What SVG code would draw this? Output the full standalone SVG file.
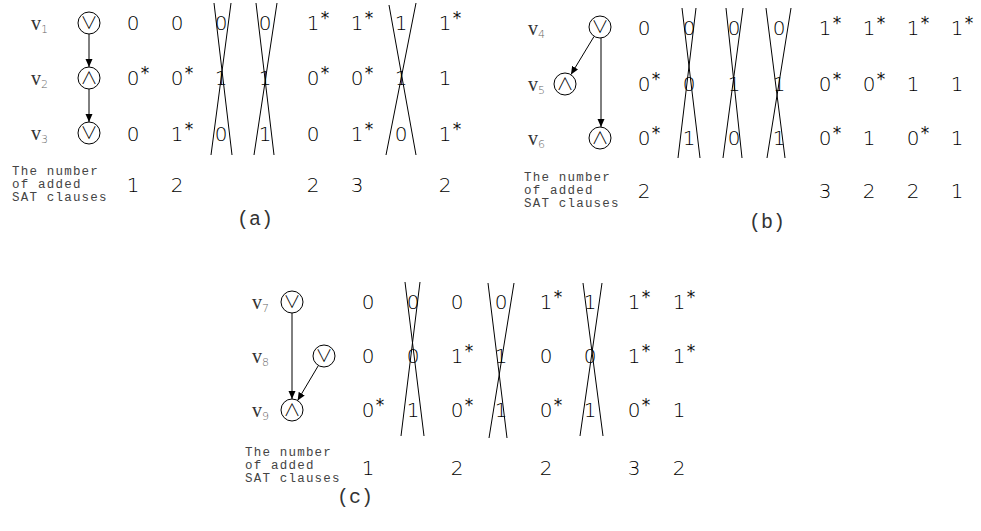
<svg xmlns="http://www.w3.org/2000/svg" width="981" height="531" viewBox="0 0 981 531">
  <style>
    .d { font-family: "DejaVu Sans", sans-serif; font-weight: 200; font-size: 20px; text-anchor: middle; fill: #000; }
    .st { font-family: "DejaVu Sans", sans-serif; font-weight: 400; font-size: 17px; text-anchor: middle; fill: #111; }
    .lbl { font-family: "Liberation Mono", monospace; font-size: 12.5px; letter-spacing: 1.2px; fill: #444; }
    .cap { font-family: "Liberation Mono", monospace; font-size: 20px; text-anchor: middle; fill: #333; }
    .v { font-family: "Liberation Serif", serif; font-size: 20px; fill: #333; }
    .sub { font-family: "DejaVu Sans", sans-serif; font-weight: 200; font-size: 11px; fill: #666; }
    .op { font-family: "Noto Sans CJK JP", sans-serif; font-weight: 300; font-size: 17px; text-anchor: middle; fill: #000; }
    .node circle { fill: none; stroke: #000; stroke-width: 1; }
    .edge { stroke: #000; stroke-width: 1; fill: none; }
    .x line { stroke: #000; stroke-width: 1; }
  </style>
  <defs>
    <marker id="ah" markerUnits="userSpaceOnUse" markerWidth="8" markerHeight="8" refX="8" refY="3.5" orient="auto">
      <path d="M0,0 L8,3.5 L0,7 Z" fill="#000"/>
    </marker>
  </defs>
  <rect width="981" height="531" fill="#fff"/>

  <!-- ===== panel (a) ===== -->
  <g id="a-labels">
    <text class="v" x="31" y="30">v<tspan class="sub" dy="3">1</tspan></text>
    <text class="v" x="31" y="85">v<tspan class="sub" dy="3">2</tspan></text>
    <text class="v" x="31" y="140">v<tspan class="sub" dy="3">3</tspan></text>
  </g>
  <g id="v1" class="node"><circle cx="89" cy="23" r="11"/><text class="op" x="89" y="29">∨</text></g>
  <g id="v2" class="node"><circle cx="89" cy="78" r="11"/><text class="op" x="89" y="84">∧</text></g>
  <g id="v3" class="node"><circle cx="89" cy="133" r="11"/><text class="op" x="89" y="139">∨</text></g>
  <g id="a-edges">
    <line class="edge" x1="89" y1="34" x2="89" y2="67" marker-end="url(#ah)"/>
    <line class="edge" x1="89" y1="89" x2="89" y2="122" marker-end="url(#ah)"/>
  </g>
  <g id="a-values">
    <text class="d" x="133" y="30">0</text>
    <text class="d" x="133" y="85">0</text><text class="st" x="145" y="79">*</text>
    <text class="d" x="133" y="141">0</text>
    <text class="d" x="177" y="30">0</text>
    <text class="d" x="177" y="85">0</text><text class="st" x="189" y="79">*</text>
    <text class="d" x="177" y="141">1</text><text class="st" x="189" y="135">*</text>
    <text class="d" x="221" y="30">0</text>
    <text class="d" x="221" y="85">1</text>
    <text class="d" x="221" y="141">0</text>
    <text class="d" x="265" y="30">0</text>
    <text class="d" x="265" y="85">1</text>
    <text class="d" x="265" y="141">1</text>
    <text class="d" x="313" y="30">1</text><text class="st" x="325" y="24">*</text>
    <text class="d" x="313" y="85">0</text><text class="st" x="325" y="79">*</text>
    <text class="d" x="313" y="141">0</text>
    <text class="d" x="357" y="30">1</text><text class="st" x="369" y="24">*</text>
    <text class="d" x="357" y="85">0</text><text class="st" x="369" y="79">*</text>
    <text class="d" x="357" y="141">1</text><text class="st" x="369" y="135">*</text>
    <text class="d" x="401" y="30">1</text>
    <text class="d" x="401" y="85">1</text>
    <text class="d" x="401" y="141">0</text>
    <text class="d" x="445" y="30">1</text><text class="st" x="457" y="24">*</text>
    <text class="d" x="445" y="85">1</text>
    <text class="d" x="445" y="141">1</text><text class="st" x="457" y="135">*</text>
  </g>
  <g id="a-crosses" class="x">
    <line x1="214" y1="3" x2="232" y2="155"/><line x1="231" y1="3" x2="211" y2="155"/>
    <line x1="256" y1="3" x2="274" y2="155"/><line x1="277" y1="3" x2="254" y2="155"/>
    <line x1="389" y1="5" x2="416" y2="155"/><line x1="416" y1="3" x2="386" y2="155"/>
  </g>
  <g id="a-count">
    <text class="lbl" x="12" y="175">The number</text>
    <text class="lbl" x="12" y="188">of added</text>
    <text class="lbl" x="12" y="201">SAT clauses</text>
    <text class="d" x="133" y="192">1</text>
    <text class="d" x="177" y="192">2</text>
    <text class="d" x="313" y="192">2</text>
    <text class="d" x="357" y="192">3</text>
    <text class="d" x="445" y="192">2</text>
    <text class="cap" x="255" y="225">(a)</text>
  </g>

  <!-- ===== panel (b) ===== -->
  <g id="b-labels">
    <text class="v" x="528" y="35">v<tspan class="sub" dy="3">4</tspan></text>
    <text class="v" x="528" y="91">v<tspan class="sub" dy="3">5</tspan></text>
    <text class="v" x="528" y="145">v<tspan class="sub" dy="3">6</tspan></text>
  </g>
  <g id="v4" class="node"><circle cx="600" cy="27" r="11"/><text class="op" x="600" y="33">∨</text></g>
  <g id="v5" class="node"><circle cx="565" cy="84" r="11"/><text class="op" x="565" y="90">∧</text></g>
  <g id="v6" class="node"><circle cx="600" cy="138" r="11"/><text class="op" x="600" y="144">∧</text></g>
  <g id="b-edges">
    <line class="edge" x1="594" y1="36.5" x2="571" y2="74.5" marker-end="url(#ah)"/>
    <line class="edge" x1="601" y1="38" x2="601" y2="127" marker-end="url(#ah)"/>
  </g>
  <g id="b-values">
    <text class="d" x="644" y="35">0</text>
    <text class="d" x="644" y="91">0</text><text class="st" x="656" y="85">*</text>
    <text class="d" x="644" y="145">0</text><text class="st" x="656" y="139">*</text>
    <text class="d" x="689" y="35">0</text>
    <text class="d" x="689" y="91">0</text>
    <text class="d" x="689" y="145">1</text>
    <text class="d" x="734" y="35">0</text>
    <text class="d" x="734" y="91">1</text>
    <text class="d" x="734" y="145">0</text>
    <text class="d" x="779" y="35">0</text>
    <text class="d" x="779" y="91">1</text>
    <text class="d" x="779" y="145">1</text>
    <text class="d" x="825" y="35">1</text><text class="st" x="837" y="29">*</text>
    <text class="d" x="825" y="91">0</text><text class="st" x="837" y="85">*</text>
    <text class="d" x="825" y="145">0</text><text class="st" x="837" y="139">*</text>
    <text class="d" x="869" y="35">1</text><text class="st" x="881" y="29">*</text>
    <text class="d" x="869" y="91">0</text><text class="st" x="881" y="85">*</text>
    <text class="d" x="869" y="145">1</text>
    <text class="d" x="913" y="35">1</text><text class="st" x="925" y="29">*</text>
    <text class="d" x="913" y="91">1</text>
    <text class="d" x="913" y="145">0</text><text class="st" x="925" y="139">*</text>
    <text class="d" x="957" y="35">1</text><text class="st" x="969" y="29">*</text>
    <text class="d" x="957" y="91">1</text>
    <text class="d" x="957" y="145">1</text>
  </g>
  <g id="b-crosses" class="x">
    <line x1="682" y1="8" x2="700" y2="158"/><line x1="696" y1="8" x2="678" y2="158"/>
    <line x1="726" y1="8" x2="742" y2="158"/><line x1="743" y1="8" x2="723" y2="158"/>
    <line x1="766" y1="8" x2="785" y2="158"/><line x1="791" y1="8" x2="767" y2="158"/>
  </g>
  <g id="b-count">
    <text class="lbl" x="524" y="181">The number</text>
    <text class="lbl" x="524" y="194">of added</text>
    <text class="lbl" x="524" y="207">SAT clauses</text>
    <text class="d" x="644" y="198">2</text>
    <text class="d" x="825" y="198">3</text>
    <text class="d" x="869" y="198">2</text>
    <text class="d" x="913" y="198">2</text>
    <text class="d" x="957" y="198">1</text>
    <text class="cap" x="767" y="228">(b)</text>
  </g>

  <!-- ===== panel (c) ===== -->
  <g id="c-labels">
    <text class="v" x="252" y="309">v<tspan class="sub" dy="3">7</tspan></text>
    <text class="v" x="252" y="363">v<tspan class="sub" dy="3">8</tspan></text>
    <text class="v" x="252" y="417">v<tspan class="sub" dy="3">9</tspan></text>
  </g>
  <g id="v7" class="node"><circle cx="292" cy="302" r="11"/><text class="op" x="292" y="308">∨</text></g>
  <g id="v8" class="node"><circle cx="324" cy="356" r="11"/><text class="op" x="324" y="362">∨</text></g>
  <g id="v9" class="node"><circle cx="292" cy="410" r="11"/><text class="op" x="292" y="416">∧</text></g>
  <g id="c-edges">
    <line class="edge" x1="292" y1="313" x2="292" y2="399" marker-end="url(#ah)"/>
    <line class="edge" x1="318.4" y1="365.5" x2="297.6" y2="400.5" marker-end="url(#ah)"/>
  </g>
  <g id="c-values">
    <text class="d" x="368" y="309">0</text>
    <text class="d" x="368" y="363">0</text>
    <text class="d" x="368" y="417">0</text><text class="st" x="380" y="411">*</text>
    <text class="d" x="413" y="309">0</text>
    <text class="d" x="413" y="363">0</text>
    <text class="d" x="413" y="417">1</text>
    <text class="d" x="457" y="309">0</text>
    <text class="d" x="457" y="363">1</text><text class="st" x="469" y="357">*</text>
    <text class="d" x="457" y="417">0</text><text class="st" x="469" y="411">*</text>
    <text class="d" x="501" y="309">0</text>
    <text class="d" x="501" y="363">1</text>
    <text class="d" x="501" y="417">1</text>
    <text class="d" x="546" y="309">1</text><text class="st" x="558" y="303">*</text>
    <text class="d" x="546" y="363">0</text>
    <text class="d" x="546" y="417">0</text><text class="st" x="558" y="411">*</text>
    <text class="d" x="590" y="309">1</text>
    <text class="d" x="590" y="363">0</text>
    <text class="d" x="590" y="417">1</text>
    <text class="d" x="634" y="309">1</text><text class="st" x="646" y="303">*</text>
    <text class="d" x="634" y="363">1</text><text class="st" x="646" y="357">*</text>
    <text class="d" x="634" y="417">0</text><text class="st" x="646" y="411">*</text>
    <text class="d" x="679" y="309">1</text><text class="st" x="691" y="303">*</text>
    <text class="d" x="679" y="363">1</text><text class="st" x="691" y="357">*</text>
    <text class="d" x="679" y="417">1</text>
  </g>
  <g id="c-crosses" class="x">
    <line x1="405" y1="282" x2="424" y2="436"/><line x1="420" y1="282" x2="401" y2="436"/>
    <line x1="488" y1="283" x2="507" y2="438"/><line x1="514" y1="283" x2="489" y2="438"/>
    <line x1="583" y1="283" x2="603" y2="436"/><line x1="602" y1="283" x2="580" y2="436"/>
  </g>
  <g id="c-count">
    <text class="lbl" x="245" y="456">The number</text>
    <text class="lbl" x="245" y="469">of added</text>
    <text class="lbl" x="245" y="482">SAT clauses</text>
    <text class="d" x="368" y="475">1</text>
    <text class="d" x="457" y="475">2</text>
    <text class="d" x="546" y="475">2</text>
    <text class="d" x="634" y="475">3</text>
    <text class="d" x="679" y="475">2</text>
    <text class="cap" x="355" y="503">(c)</text>
  </g>
</svg>
